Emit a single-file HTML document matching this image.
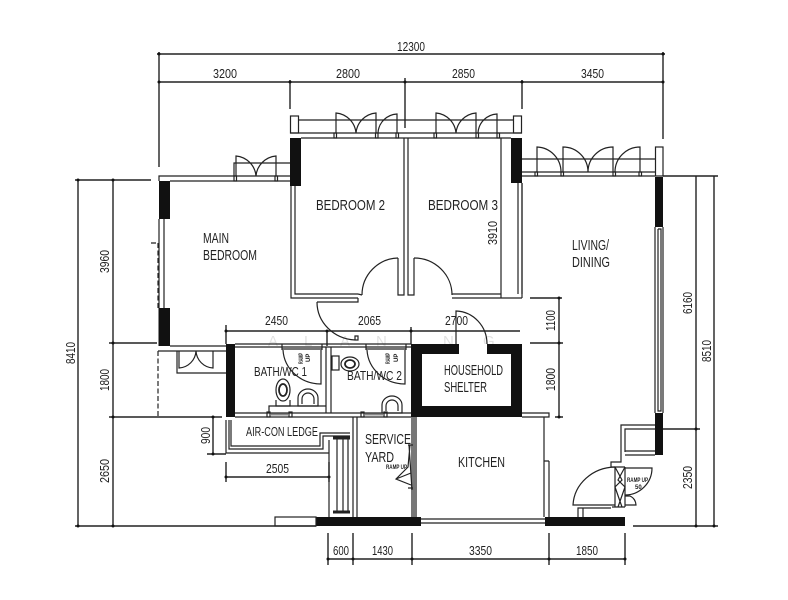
<!DOCTYPE html>
<html><head><meta charset="utf-8"><style>
html,body{margin:0;padding:0;background:#fff}
svg{display:block}
text{font-family:"Liberation Sans",sans-serif;fill:#222;stroke:none}
</style></head><body>
<svg width="788" height="600" viewBox="0 0 788 600" xmlns="http://www.w3.org/2000/svg">
<rect width="788" height="600" fill="#fff"/>
<!-- faint watermark -->
<g font-size="15" style="opacity:.13">
<text x="268" y="346">A</text><text x="304" y="346">L</text><text x="340" y="346">A</text><text x="376" y="346">N</text><text x="443" y="346">N</text><text x="483" y="346">G</text>
</g>
<!-- black walls -->
<g fill="#111" stroke="none">
<rect x="290" y="138" width="11" height="48"/>
<rect x="159" y="181" width="11" height="38"/>
<rect x="158.500" y="308" width="11.500" height="38"/>
<rect x="511" y="138" width="11" height="45"/>
<rect x="655" y="177" width="8" height="50"/>
<rect x="655" y="413" width="8" height="42"/>
<rect x="226" y="344" width="9" height="73"/>
<path d="M411 344H522V417H411ZM422 354V406H511V354H487V344H459V354Z" fill-rule="evenodd"/>
<rect x="316" y="517" width="105" height="9"/>
<rect x="545" y="517" width="80" height="9"/>
</g>
<rect x="459" y="344" width="28" height="10" fill="#fff"/>
<rect x="411" y="417" width="6" height="100" fill="#777"/>
<g fill="none" stroke="#222" stroke-width="1.400">
<!-- dimension lines -->
<path d="M157 54H665M159 82H663M159 52V167M290 80V109M405 78V128M522 80V109M663 52V139"/>
<path d="M75 180H151M78 180V526M113 180V526M109 343H157M109 417H222M75 526H316M633 526H718"/>
<path d="M213 417V454M207 454H226M226 462V482M329 462V482M226 477H329"/>
<path d="M226 331H520M226 325V344M327 331V346M411 327V344"/>
<path d="M530 298H562M530 343H563M559 298V417M555 417H563"/>
<path d="M663 176H718M696 176V526M714 176V526M663 429H700"/>
<path d="M328 559H625M328 533V565M353 533V565M412 533V565M549 533V565M625 533V565"/>
</g>
<g fill="#111">
<circle cx="159" cy="54" r="1.500"/><circle cx="663" cy="54" r="1.500"/>
<circle cx="159" cy="82" r="1.500"/><circle cx="290" cy="82" r="1.500"/><circle cx="405" cy="82" r="1.500"/><circle cx="522" cy="82" r="1.500"/><circle cx="663" cy="82" r="1.500"/>
<circle cx="78" cy="180" r="1.500"/><circle cx="113" cy="180" r="1.500"/><circle cx="113" cy="343" r="1.500"/><circle cx="113" cy="417" r="1.500"/><circle cx="78" cy="526" r="1.500"/><circle cx="113" cy="526" r="1.500"/>
<circle cx="226" cy="331" r="1.500"/><circle cx="327" cy="331" r="1.500"/><circle cx="411" cy="331" r="1.500"/>
<circle cx="559" cy="298" r="1.500"/><circle cx="559" cy="343" r="1.500"/><circle cx="559" cy="417" r="1.500"/>
<circle cx="696" cy="429" r="1.500"/><circle cx="696" cy="526" r="1.500"/><circle cx="714" cy="526" r="1.500"/>
<circle cx="328" cy="559" r="1.500"/><circle cx="353" cy="559" r="1.500"/><circle cx="412" cy="559" r="1.500"/><circle cx="549" cy="559" r="1.500"/><circle cx="625" cy="559" r="1.500"/>
<circle cx="213" cy="417" r="1.500"/><circle cx="213" cy="454" r="1.500"/><circle cx="226" cy="477" r="1.500"/><circle cx="329" cy="477" r="1.500"/>
</g>
<!-- walls -->
<g fill="none" stroke="#222" stroke-width="1.200">
<!-- bedrooms top -->
<rect x="290.500" y="116" width="8" height="17"/><rect x="513.500" y="116" width="8" height="17"/>
<path d="M298 120H513M290 133H522M301 138H511"/>
<path d="M291 186V298H358M295 186V294H358"/>
<path d="M398 258V295H404V138M408 138V295H414V258M452 298H522M452 294H501M501 138V298M518 183V294M522 183V298"/>
<path d="M398 258A37 37 0 0 0 362 295M414 258A38 37 0 0 1 452 295M358 294L362 295"/>
<!-- bedroom windows -->
<path d="M336 133V113A22 22 0 0 1 356 133M376 133V113A22 22 0 0 0 356 133M397 133V114A20 20 0 0 0 378 133"/>
<path d="M436 133V113A22 22 0 0 1 456 133M476 133V113A22 22 0 0 0 456 133M497 133V114A20 20 0 0 0 478 133"/>
<rect x="334" y="133" width="2.500" height="5"/><rect x="375.500" y="133" width="2.500" height="5"/><rect x="396" y="133" width="2.500" height="5"/>
<rect x="434" y="133" width="2.500" height="5"/><rect x="476" y="133" width="2.500" height="5"/><rect x="497" y="133" width="2.500" height="5"/>
<!-- main bedroom -->
<path d="M159 181V176H290M170 181H290M159 219V308M164 219V308M170 346H226M158 351H226"/>
<path d="M236 176V156A22 22 0 0 1 256 176M276 176V156A22 22 0 0 0 256 176M234 176V163H290"/>
<rect x="234" y="176" width="2.500" height="5"/><rect x="275" y="176" width="2.500" height="5"/>
<!-- main balcony -->
<path d="M177 351V373H226M179 351V368A18 18 0 0 0 196 351A18 18 0 0 0 213 368V351"/>
<path d="M158 243V308M158 351V417M151 243H158" stroke-dasharray="5 2.500"/>
<!-- main door -->
<path d="M317 302H358V298M317 302A40 38 0 0 0 355 340M355 340H358V336H355Z"/>
<!-- bath -->
<path d="M235 344H411M235 347H411M235 413H411M235 417H411M326 347V413M331 347V413"/>
<path d="M282 344V350M322 344V350M282 349H322M283 350A38 36 0 0 0 321 384V350"/>
<path d="M366 344V350M406 344V350M366 349H406M367 350A38 36 0 0 0 405 384V350"/>
<path d="M269 413V406H326"/>
<rect x="267" y="412" width="3" height="5"/><rect x="289" y="412" width="3" height="5"/>
<rect x="361" y="412" width="3" height="5"/><rect x="384" y="412" width="3" height="5"/>
<!-- fixtures -->
<ellipse cx="283" cy="390" rx="7" ry="11"/><ellipse cx="283" cy="390" rx="4" ry="6" stroke-width="1.800"/>
<path d="M276 400V406H290V400"/>
<ellipse cx="350" cy="364" rx="9" ry="7"/><ellipse cx="350" cy="364" rx="5" ry="4" stroke-width="1.800"/>
<rect x="332" y="356" width="7" height="14"/>
<path d="M298 406V398A10 9 0 0 1 318 398V406Z"/><path d="M302 404V399A6 6 0 0 1 314 399V404"/>
<path d="M382 413V405A10 9 0 0 1 402 405V413Z"/><path d="M386 411V406A6 6 0 0 1 398 406V411"/>
<!-- shelter door -->
<path d="M456 344V311A32 33 0 0 1 487 344"/>
<path d="M522 413H549V417H522M544 417V517M549 461H544M549 461V517"/>
<!-- ledge -->
<path d="M226 420V453H329M229 420V449H323V436H350M231 420V446H320V433H350"/>
<!-- stairs -->
<path d="M329 440V517M337 438V512M343 438V512M348 438V512"/>
<path d="M353 417V517M357 417V517"/>
<!-- service door -->
<path d="M410 445L408 467L396 479L411 485M396 479L411 473M408 445H413M408 488H413M409 445L412 490"/>
<!-- kitchen bottom -->
<path d="M421 519H545M421 523H545"/>
<rect x="275" y="517" width="41" height="9"/>
<!-- living -->
<rect x="655.500" y="147" width="7.500" height="29"/>
<path d="M522 159H655M522 172H655M522 176H655"/>
<path d="M537 172V147A25 25 0 0 1 561 172M563 172V147A25 25 0 0 1 588 172M613 172V147A25 25 0 0 0 588 172M640 172V147A25 25 0 0 0 615 172"/>
<rect x="535" y="172" width="2.500" height="4"/><rect x="561" y="172" width="2.500" height="4"/><rect x="613" y="172" width="2.500" height="4"/><rect x="639" y="172" width="2.500" height="4"/>
<path d="M522 183V294"/>
<path d="M655 227V413M658 229V411H661V229H658M663 227V413"/>
<!-- entrance -->
<path d="M655 425H621V462H611V467H625M655 429H625V452M625 451H655M625 455H655"/>
<path d="M615 467V507M625 467V507M612 507H625M615 467A43 40 0 0 0 573 505H615"/>
<path d="M578 517V508H611M583 517V508"/>
<path d="M625 468H652A27 27 0 0 1 625 495M625 496H630A10 10 0 0 1 636 505H625"/>
<path d="M615 467L622 480L615 487L622 507M625 467L618 480L625 487L618 507"/>
</g>
<path d="M271 414.500H288M365 414.500H383" stroke="#888" stroke-width="2" fill="none"/>
<g stroke="#222" stroke-width="3" fill="none"><path d="M333 438H350M333 512H350"/></g>
<!-- dimension labels -->
<g font-size="13">
<text x="397" y="51" textLength="28" lengthAdjust="spacingAndGlyphs">12300</text>
<text x="213" y="78" textLength="24" lengthAdjust="spacingAndGlyphs">3200</text>
<text x="336" y="78" textLength="24" lengthAdjust="spacingAndGlyphs">2800</text>
<text x="452" y="78" textLength="23" lengthAdjust="spacingAndGlyphs">2850</text>
<text x="581" y="78" textLength="23" lengthAdjust="spacingAndGlyphs">3450</text>
<text x="265" y="325" textLength="23" lengthAdjust="spacingAndGlyphs">2450</text>
<text x="358" y="325" textLength="23" lengthAdjust="spacingAndGlyphs">2065</text>
<text x="445" y="325" textLength="23" lengthAdjust="spacingAndGlyphs">2700</text>
<text x="266" y="473" textLength="23" lengthAdjust="spacingAndGlyphs">2505</text>
<text x="333" y="555" textLength="16" lengthAdjust="spacingAndGlyphs">600</text>
<text x="372" y="555" textLength="21" lengthAdjust="spacingAndGlyphs">1430</text>
<text x="469" y="555" textLength="23" lengthAdjust="spacingAndGlyphs">3350</text>
<text x="576" y="555" textLength="22" lengthAdjust="spacingAndGlyphs">1850</text>
<text transform="translate(109,273) rotate(-90)" textLength="23" lengthAdjust="spacingAndGlyphs">3960</text>
<text transform="translate(75,364) rotate(-90)" textLength="22" lengthAdjust="spacingAndGlyphs">8410</text>
<text transform="translate(109,391) rotate(-90)" textLength="22" lengthAdjust="spacingAndGlyphs">1800</text>
<text transform="translate(109,483) rotate(-90)" textLength="24" lengthAdjust="spacingAndGlyphs">2650</text>
<text transform="translate(210,444) rotate(-90)" textLength="17" lengthAdjust="spacingAndGlyphs">900</text>
<text transform="translate(497,245) rotate(-90)" textLength="24" lengthAdjust="spacingAndGlyphs">3910</text>
<text transform="translate(555,331) rotate(-90)" textLength="21" lengthAdjust="spacingAndGlyphs">1100</text>
<text transform="translate(555,391) rotate(-90)" textLength="23" lengthAdjust="spacingAndGlyphs">1800</text>
<text transform="translate(692,314) rotate(-90)" textLength="22" lengthAdjust="spacingAndGlyphs">6160</text>
<text transform="translate(711,362) rotate(-90)" textLength="22" lengthAdjust="spacingAndGlyphs">8510</text>
<text transform="translate(692,489) rotate(-90)" textLength="23" lengthAdjust="spacingAndGlyphs">2350</text>
</g>
<!-- room labels -->
<g font-size="15">
<text x="316" y="210" textLength="69" lengthAdjust="spacingAndGlyphs">BEDROOM 2</text>
<text x="428" y="210" textLength="70" lengthAdjust="spacingAndGlyphs">BEDROOM 3</text>
<text x="203" y="243" textLength="26" lengthAdjust="spacingAndGlyphs">MAIN</text>
<text x="203" y="260" textLength="54" lengthAdjust="spacingAndGlyphs">BEDROOM</text>
<text x="572" y="250" textLength="37" lengthAdjust="spacingAndGlyphs">LIVING/</text>
<text x="572" y="267" textLength="38" lengthAdjust="spacingAndGlyphs">DINING</text>
<text x="365" y="444" textLength="46" lengthAdjust="spacingAndGlyphs">SERVICE</text>
<text x="365" y="462" textLength="29" lengthAdjust="spacingAndGlyphs">YARD</text>
<text x="458" y="467" textLength="47" lengthAdjust="spacingAndGlyphs">KITCHEN</text>
<text x="444" y="375" textLength="59" lengthAdjust="spacingAndGlyphs">HOUSEHOLD</text>
<text x="444" y="392" textLength="43" lengthAdjust="spacingAndGlyphs">SHELTER</text>
</g>
<g font-size="13">
<text x="254" y="376" textLength="53" lengthAdjust="spacingAndGlyphs">BATH/WC 1</text>
<text x="347" y="380" textLength="55" lengthAdjust="spacingAndGlyphs">BATH/WC 2</text>
<text x="246" y="436" textLength="72" lengthAdjust="spacingAndGlyphs">AIR-CON LEDGE</text>
</g>
<g font-size="6" font-weight="bold">
<text x="386" y="469" textLength="21" lengthAdjust="spacingAndGlyphs">RAMP UP</text>
<text x="627" y="482" textLength="21" lengthAdjust="spacingAndGlyphs">RAMP UP</text>
<text x="635" y="489">50</text>
<text transform="translate(303,364) rotate(-90)" textLength="11" lengthAdjust="spacingAndGlyphs">RAMP</text>
<text transform="translate(310,362) rotate(-90)">UP</text>
<text transform="translate(390,364) rotate(-90)" textLength="11" lengthAdjust="spacingAndGlyphs">RAMP</text>
<text transform="translate(398,362) rotate(-90)">UP</text>
</g>
</svg>
</body></html>
